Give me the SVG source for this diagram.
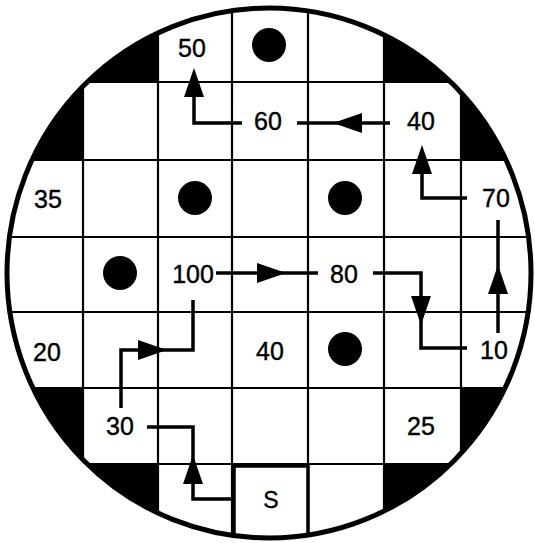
<svg xmlns="http://www.w3.org/2000/svg" xmlns:xlink="http://www.w3.org/1999/xlink" width="535" height="543" viewBox="0 0 535 543">
<style>
.lbl{font-family:"Liberation Sans",Arial,sans-serif;font-size:25px;fill:#000;stroke:#000;stroke-width:0.4;text-anchor:middle}
.grid{stroke:#000;stroke-width:2.2;fill:none}
.con{stroke:#000;stroke-width:3.5;fill:none}
.dot{fill:#000}
</style>
<defs>
<clipPath id="wafer"><ellipse cx="269" cy="273" rx="262" ry="265"/></clipPath>
<path id="ah" d="M0,0 L-29,-10 L-29,10 Z" fill="#000"/>
</defs>
<rect width="535" height="543" fill="#fff"/>
<g id="wafer-body">
<ellipse cx="269" cy="273" rx="262" ry="265" fill="#fff"/>
<g clip-path="url(#wafer)">
<path d="M0,0 H158 V82 H83 V160 H0 Z M384,0 H535 V160 H461 V82 H384 Z M0,388 H83 V464 H158 V543 H0 Z M461,388 H535 V543 H384 V464 H461 Z" fill="#000"/>
<g class="grid">
<path d="M83,0 V543 M158,0 V543 M232,0 V543 M308,0 V543 M384,0 V543 M461,0 V543"/>
<path d="M0,82 H535 M0,160 H535 M0,237 H535 M0,312 H535 M0,388 H535 M0,464 H535"/>
</g>
<rect x="234" y="466" width="74" height="90" fill="#fff" stroke="#000" stroke-width="3.5"/>
</g>
<ellipse cx="269" cy="273" rx="262" ry="265" fill="none" stroke="#000" stroke-width="5"/>
</g>
<g id="dots">
<circle class="dot" cx="269" cy="45" r="17"/>
<circle class="dot" cx="195" cy="198" r="17"/>
<circle class="dot" cx="345" cy="198" r="17"/>
<circle class="dot" cx="120" cy="273" r="17"/>
<circle class="dot" cx="345" cy="349" r="17"/>
</g>
<g id="connectors">
<path class="con" d="M242,123 H194 V90"/>
<use xlink:href="#ah" transform="translate(194,68) rotate(-90)"/>
<path class="con" d="M390,123 H297"/>
<use xlink:href="#ah" transform="translate(333,123) rotate(180)"/>
<path class="con" d="M467,198 H422 V170"/>
<use xlink:href="#ah" transform="translate(422,145) rotate(-90)"/>
<path class="con" d="M498,333 V220"/>
<use xlink:href="#ah" transform="translate(498,265) rotate(-90)"/>
<path class="con" d="M216,273 H318"/>
<use xlink:href="#ah" transform="translate(286,273)"/>
<path class="con" d="M373,273 H421 V348 H467"/>
<use xlink:href="#ah" transform="translate(421,325) rotate(90)"/>
<path class="con" d="M121,408 V350 H193 V300"/>
<use xlink:href="#ah" transform="translate(167,350)"/>
<path class="con" d="M232,499 H193 V427 H147"/>
<use xlink:href="#ah" transform="translate(193,455) rotate(-90)"/>
</g>
<g id="node-50"><text class="lbl" x="192" y="57">50</text></g>
<g id="node-60"><text class="lbl" x="268" y="130">60</text></g>
<g id="node-40a"><text class="lbl" x="421" y="130">40</text></g>
<g id="node-35"><text class="lbl" x="48" y="208">35</text></g>
<g id="node-70"><text class="lbl" x="496" y="207">70</text></g>
<g id="node-100"><text class="lbl" x="193" y="283">100</text></g>
<g id="node-80"><text class="lbl" x="344" y="283">80</text></g>
<g id="node-20"><text class="lbl" x="47" y="361">20</text></g>
<g id="node-40b"><text class="lbl" x="270" y="360">40</text></g>
<g id="node-10"><text class="lbl" x="494" y="359">10</text></g>
<g id="node-30"><text class="lbl" x="120" y="435">30</text></g>
<g id="node-25"><text class="lbl" x="421" y="435">25</text></g>
<g id="node-S"><text class="lbl" x="271" y="508" style="font-size:23px">S</text></g>
</svg>
